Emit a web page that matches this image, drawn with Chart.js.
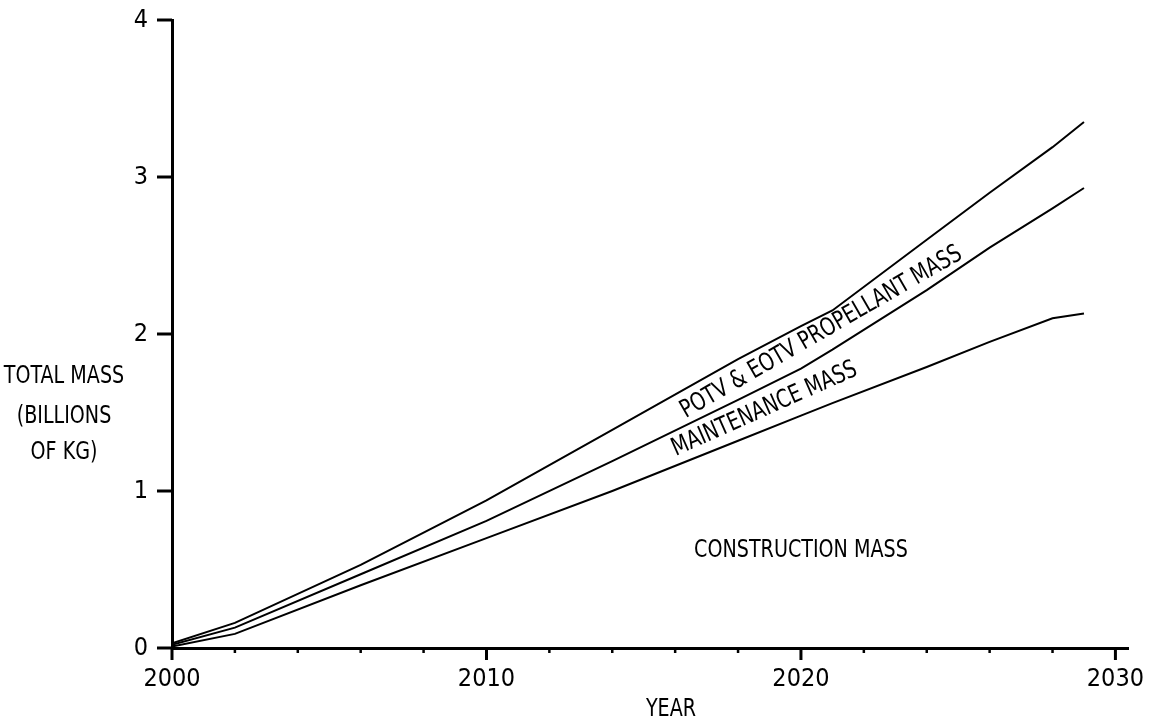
<!DOCTYPE html>
<html>
<head>
<meta charset="utf-8">
<script src="https://cdn.jsdelivr.net/npm/chart.js@4.4.1/dist/chart.umd.min.js"></script>
<style>
  body { margin: 0; background: #fff; }
  canvas { display: block; }
</style>
</head>
<body>
<canvas id="massChart" width="1161" height="720"></canvas>
<script>
// values (billions of kg)
const years = [2000, 2002, 2006, 2010, 2014, 2018, 2020, 2021, 2024, 2026, 2028, 2029];
const propellantTop = [0.03, 0.16, 0.53, 0.94, 1.39, 1.84, 2.05, 2.15, 2.60, 2.90, 3.19, 3.35];
const maintenanceTop = [0.02, 0.13, 0.47, 0.81, 1.19, 1.58, 1.78, 1.90, 2.28, 2.55, 2.80, 2.93];
const constructionTop = [0.01, 0.09, 0.40, 0.70, 1.00, 1.32, 1.48, 1.56, 1.79, 1.95, 2.10, 2.13];

const yTicks = [0, 1, 2, 3, 4];
const xTickYears = [2000, 2002, 2004, 2006, 2008, 2010, 2012, 2014, 2016, 2018, 2020, 2022, 2024, 2026, 2028, 2030];
const xLabelYears = [2000, 2010, 2020, 2030];
const yTitleLines = ["TOTAL MASS", "(BILLIONS", "OF KG)"];

const FONT = "'DejaVu Sans Condensed', 'Liberation Sans Narrow', sans-serif";

const toPoints = (vals) => vals.map((v, i) => ({ x: years[i], y: v }));

const lineStyle = {
  borderColor: "#000",
  borderWidth: 2,
  pointRadius: 0,
  tension: 0,
  fill: false,
};

// tick marks, y title and curve labels
const annotate = {
  id: "annotate",
  afterDraw(chart) {
    const ctx = chart.ctx;
    const xs = chart.scales.x;
    const ys = chart.scales.y;
    const y0 = ys.getPixelForValue(0);

    ctx.save();
    ctx.strokeStyle = "#000";
    ctx.lineCap = "butt";

    xTickYears.forEach((yr) => {
      const px = xs.getPixelForValue(yr);
      const major = xLabelYears.includes(yr);
      ctx.lineWidth = major ? 3 : 2.5;
      ctx.beginPath();
      ctx.moveTo(px, y0);
      ctx.lineTo(px, y0 + (major ? 12 : 5));
      ctx.stroke();
    });

    ctx.lineWidth = 3;
    yTicks.forEach((v) => {
      const py = ys.getPixelForValue(v);
      ctx.beginPath();
      ctx.moveTo(xs.left - 15, py);
      ctx.lineTo(xs.left, py);
      ctx.stroke();
    });

    ctx.fillStyle = "#000";
    ctx.font = "25px " + FONT;
    ctx.textAlign = "center";
    ctx.textBaseline = "middle";

    // narrow text, like the typed labels of the original
    const text = (t, x, y, deg) => {
      ctx.save();
      ctx.translate(x, y);
      ctx.rotate((-deg * Math.PI) / 180);
      ctx.scale(0.85, 1);
      ctx.fillText(t, 0, 0);
      ctx.restore();
    };

    const titleY = [376, 416, 452];
    yTitleLines.forEach((t, i) => text(t, 64, titleY[i], 0));

    text("YEAR", 671, 709, 0);

    const label = (t, yr, v, deg) =>
      text(t, xs.getPixelForValue(yr), ys.getPixelForValue(v), deg);
    label("POTV & EOTV PROPELLANT MASS", 2020.65, 2.01, 30);
    label("MAINTENANCE MASS", 2018.84, 1.52, 24);
    label("CONSTRUCTION MASS", 2020.0, 0.62, 0);

    ctx.restore();
  },
};

new Chart(document.getElementById("massChart").getContext("2d"), {
  type: "line",
  data: {
    datasets: [
      { ...lineStyle, label: "POTV & EOTV propellant", data: toPoints(propellantTop) },
      { ...lineStyle, label: "Maintenance", data: toPoints(maintenanceTop) },
      { ...lineStyle, label: "Construction", data: toPoints(constructionTop) },
    ],
  },
  options: {
    responsive: false,
    animation: false,
    devicePixelRatio: 1,
    layout: { padding: { top: 20, right: 33, left: 0, bottom: 0 } },
    plugins: {
      legend: { display: false },
      tooltip: { enabled: false },
    },
    scales: {
      x: {
        type: "linear",
        min: 2000,
        max: 2030.4,
        afterBuildTicks: (axis) => {
          axis.ticks = xTickYears.map((v) => ({ value: v }));
        },
        afterFit: (scale) => {
          scale.height = 72;
        },
        grid: { display: false, drawTicks: false },
        border: { display: true, color: "#000", width: 3 },
        ticks: {
          autoSkip: false,
          maxRotation: 0,
          padding: 16,
          color: "#000",
          font: { family: FONT, size: 25 },
          callback: (v) => (xLabelYears.includes(v) ? String(v) : ""),
        },
      },
      y: {
        min: 0,
        max: 4,
        afterBuildTicks: (axis) => {
          axis.ticks = yTicks.map((v) => ({ value: v }));
        },
        afterFit: (scale) => {
          scale.width = 172;
          scale.paddingTop = 0;
          scale.paddingBottom = 0;
        },
        grid: { display: false, drawTicks: false },
        border: { display: true, color: "#000", width: 3 },
        ticks: {
          padding: 24,
          color: "#000",
          font: { family: FONT, size: 25 },
        },
      },
    },
  },
  plugins: [annotate],
});
</script>
</body>
</html>
